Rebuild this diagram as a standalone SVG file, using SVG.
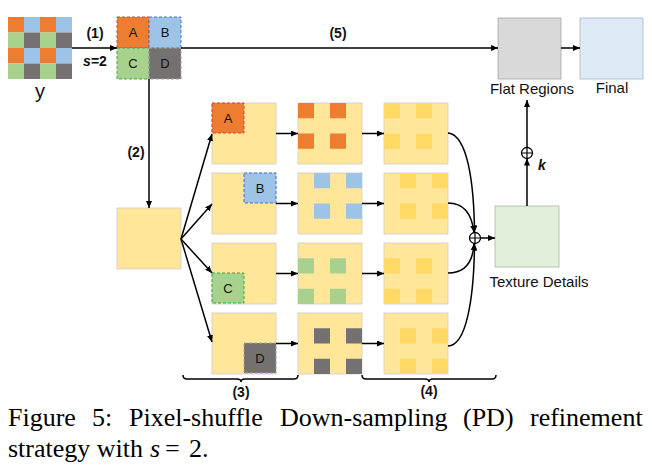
<svg xmlns="http://www.w3.org/2000/svg" width="652" height="471" viewBox="0 0 652 471">
<style>
.t{font-family:"Liberation Sans",Arial,sans-serif;fill:#111}
.b{font-weight:bold;font-size:14px}
.lab{font-size:15px}
.sq{font-size:13px;text-anchor:middle}
.box{fill:#ffe699;stroke:#cccccc;stroke-width:0.8}
.or{fill:#ed7d31}.bl{fill:#9dc3e6}.gr{fill:#a9d18e}.gy{fill:#767171}.dy{fill:#ffd966}
.ln{stroke:#000;stroke-width:1.5;fill:none}
.cap{font-family:"Liberation Serif","Times New Roman",serif;font-size:26px;fill:#000}
</style>
<defs>
<marker id="ah" markerWidth="7" markerHeight="6" refX="7" refY="3" orient="auto" markerUnits="userSpaceOnUse"><path d="M0,0 L7,3 L0,6 z" fill="#000"/></marker>
</defs>

<g id="y-input">
<rect x="8" y="17" width="16" height="15.5" class="or"/><rect x="24" y="17" width="16" height="15.5" class="bl"/><rect x="40" y="17" width="16" height="15.5" class="or"/><rect x="56" y="17" width="16" height="15.5" class="bl"/>
<rect x="8" y="32.5" width="16" height="15.5" class="gr"/><rect x="24" y="32.5" width="16" height="15.5" class="gy"/><rect x="40" y="32.5" width="16" height="15.5" class="gr"/><rect x="56" y="32.5" width="16" height="15.5" class="gy"/>
<rect x="8" y="48" width="16" height="15.5" class="or"/><rect x="24" y="48" width="16" height="15.5" class="bl"/><rect x="40" y="48" width="16" height="15.5" class="or"/><rect x="56" y="48" width="16" height="15.5" class="bl"/>
<rect x="8" y="63.5" width="16" height="15.5" class="gr"/><rect x="24" y="63.5" width="16" height="15.5" class="gy"/><rect x="40" y="63.5" width="16" height="15.5" class="gr"/><rect x="56" y="63.5" width="16" height="15.5" class="gy"/>
<text x="40" y="98" class="t" font-size="20" text-anchor="middle">y</text>
</g>

<g id="abcd">
<rect x="117" y="17" width="32" height="31" class="or" stroke="#e03c31" stroke-width="1" stroke-dasharray="3,2"/>
<rect x="149" y="17" width="32" height="31" class="bl" stroke="#4472c4" stroke-width="1" stroke-dasharray="3,2"/>
<rect x="117" y="48" width="32" height="31" class="gr" stroke="#3aa845" stroke-width="1" stroke-dasharray="3,2"/>
<rect x="149" y="48" width="32" height="31" class="gy" stroke="#a6a6a6" stroke-width="1" stroke-dasharray="3,2"/>
<text x="133" y="37" class="t sq">A</text><text x="165" y="37" class="t sq">B</text>
<text x="133" y="68" class="t sq">C</text><text x="165" y="68" class="t sq">D</text>
</g>

<g id="merged">
<rect x="117" y="208" width="64" height="61" class="box"/>
</g>

<g id="split-A">
<rect x="212" y="103" width="64" height="61" class="box"/>
<rect x="212" y="103" width="32" height="30" class="or" stroke="#e03c31" stroke-width="1" stroke-dasharray="3,2"/>
<text x="228" y="123" class="t sq">A</text>
</g>
<g id="split-B">
<rect x="212" y="173" width="64" height="61" class="box"/>
<rect x="244" y="173" width="32" height="30" class="bl" stroke="#4472c4" stroke-width="1" stroke-dasharray="3,2"/>
<text x="260" y="193" class="t sq">B</text>
</g>
<g id="split-C">
<rect x="212" y="243" width="64" height="61" class="box"/>
<rect x="212" y="273" width="32" height="30" class="gr" stroke="#3aa845" stroke-width="1" stroke-dasharray="3,2"/>
<text x="228" y="293" class="t sq">C</text>
</g>
<g id="split-D">
<rect x="212" y="313" width="64" height="61" class="box"/>
<rect x="244" y="343" width="32" height="30" class="gy" stroke="#a6a6a6" stroke-width="1" stroke-dasharray="3,2"/>
<text x="260" y="363" class="t sq">D</text>
</g>

<g id="up-A">
<rect x="298" y="103" width="64" height="61" class="box"/>
<rect x="298" y="103" width="16" height="15.25" class="or"/><rect x="330" y="103" width="16" height="15.25" class="or"/>
<rect x="298" y="133.5" width="16" height="15.25" class="or"/><rect x="330" y="133.5" width="16" height="15.25" class="or"/>
</g>
<g id="up-B">
<rect x="298" y="173" width="64" height="61" class="box"/>
<rect x="314" y="173" width="16" height="15.25" class="bl"/><rect x="346" y="173" width="16" height="15.25" class="bl"/>
<rect x="314" y="203.5" width="16" height="15.25" class="bl"/><rect x="346" y="203.5" width="16" height="15.25" class="bl"/>
</g>
<g id="up-C">
<rect x="298" y="243" width="64" height="61" class="box"/>
<rect x="298" y="258.25" width="16" height="15.25" class="gr"/><rect x="330" y="258.25" width="16" height="15.25" class="gr"/>
<rect x="298" y="288.75" width="16" height="15.25" class="gr"/><rect x="330" y="288.75" width="16" height="15.25" class="gr"/>
</g>
<g id="up-D">
<rect x="298" y="313" width="64" height="61" class="box"/>
<rect x="314" y="328.25" width="16" height="15.25" class="gy"/><rect x="346" y="328.25" width="16" height="15.25" class="gy"/>
<rect x="314" y="358.75" width="16" height="15.25" class="gy"/><rect x="346" y="358.75" width="16" height="15.25" class="gy"/>
</g>

<g id="ref-A">
<rect x="384" y="103" width="64" height="61" class="box"/>
<rect x="384" y="103" width="16" height="15.25" class="dy"/><rect x="416" y="103" width="16" height="15.25" class="dy"/>
<rect x="384" y="133.5" width="16" height="15.25" class="dy"/><rect x="416" y="133.5" width="16" height="15.25" class="dy"/>
</g>
<g id="ref-B">
<rect x="384" y="173" width="64" height="61" class="box"/>
<rect x="400" y="173" width="16" height="15.25" class="dy"/><rect x="432" y="173" width="16" height="15.25" class="dy"/>
<rect x="400" y="203.5" width="16" height="15.25" class="dy"/><rect x="432" y="203.5" width="16" height="15.25" class="dy"/>
</g>
<g id="ref-C">
<rect x="384" y="243" width="64" height="61" class="box"/>
<rect x="384" y="258.25" width="16" height="15.25" class="dy"/><rect x="416" y="258.25" width="16" height="15.25" class="dy"/>
<rect x="384" y="288.75" width="16" height="15.25" class="dy"/><rect x="416" y="288.75" width="16" height="15.25" class="dy"/>
</g>
<g id="ref-D">
<rect x="384" y="313" width="64" height="61" class="box"/>
<rect x="400" y="328.25" width="16" height="15.25" class="dy"/><rect x="432" y="328.25" width="16" height="15.25" class="dy"/>
<rect x="400" y="358.75" width="16" height="15.25" class="dy"/><rect x="432" y="358.75" width="16" height="15.25" class="dy"/>
</g>

<g id="texture">
<rect x="495" y="206" width="64" height="61" fill="#e2efda" stroke="#a9b8a0" stroke-width="0.8"/>
<text x="539" y="287" class="t lab" text-anchor="middle">Texture Details</text>
</g>
<g id="flat">
<rect x="498" y="18" width="63" height="61" fill="#d9d9d9" stroke="#a6a6a6" stroke-width="0.8"/>
<text x="532" y="94" class="t lab" text-anchor="middle">Flat Regions</text>
</g>
<g id="final">
<rect x="580" y="18" width="63" height="61" fill="#deebf7" stroke="#a6b4c4" stroke-width="0.8"/>
<text x="612" y="93" class="t lab" text-anchor="middle">Final</text>
</g>

<g id="connectors">
<line x1="72" y1="48" x2="117" y2="48" class="ln" marker-end="url(#ah)"/>
<line x1="181" y1="48" x2="498" y2="48" class="ln" marker-end="url(#ah)"/>
<line x1="561" y1="48" x2="580" y2="48" class="ln" marker-end="url(#ah)"/>
<line x1="149" y1="79" x2="149" y2="208" class="ln" marker-end="url(#ah)"/>
<line x1="181" y1="239" x2="212" y2="134" class="ln" marker-end="url(#ah)"/>
<line x1="181" y1="239" x2="212" y2="204" class="ln" marker-end="url(#ah)"/>
<line x1="181" y1="239" x2="212" y2="273" class="ln" marker-end="url(#ah)"/>
<line x1="181" y1="239" x2="212" y2="342" class="ln" marker-end="url(#ah)"/>
<line x1="276" y1="133.5" x2="298" y2="133.5" class="ln" marker-end="url(#ah)"/>
<line x1="276" y1="203.5" x2="298" y2="203.5" class="ln" marker-end="url(#ah)"/>
<line x1="276" y1="273.5" x2="298" y2="273.5" class="ln" marker-end="url(#ah)"/>
<line x1="276" y1="343.5" x2="298" y2="343.5" class="ln" marker-end="url(#ah)"/>
<line x1="362" y1="133.5" x2="384" y2="133.5" class="ln" marker-end="url(#ah)"/>
<line x1="362" y1="203.5" x2="384" y2="203.5" class="ln" marker-end="url(#ah)"/>
<line x1="362" y1="273.5" x2="384" y2="273.5" class="ln" marker-end="url(#ah)"/>
<line x1="362" y1="343.5" x2="384" y2="343.5" class="ln" marker-end="url(#ah)"/>
<path d="M448,133 C468,135 474,185 474.5,232.5" class="ln" marker-end="url(#ah)"/>
<path d="M448,203 C465,203 472,215 474,232.5" class="ln" marker-end="url(#ah)"/>
<path d="M448,273 C465,273 473,262 474,243.5" class="ln" marker-end="url(#ah)"/>
<path d="M448,346 C466,346 474,300 474.5,243.5" class="ln" marker-end="url(#ah)"/>
<circle cx="475" cy="238" r="5.5" fill="#fff" stroke="#000" stroke-width="1.3"/>
<path d="M469.5,238 H480.5 M475,232.5 V243.5" stroke="#000" stroke-width="1.2"/>
<line x1="480.5" y1="238" x2="495" y2="238" class="ln" marker-end="url(#ah)"/>
<line x1="527" y1="206" x2="527" y2="158.5" class="ln" marker-end="url(#ah)"/>
<circle cx="527" cy="153" r="5.5" fill="#fff" stroke="#000" stroke-width="1.3"/>
<path d="M521.5,153 H532.5 M527,147.5 V158.5" stroke="#000" stroke-width="1.2"/>
<line x1="527" y1="147.5" x2="527" y2="100" class="ln" marker-end="url(#ah)"/>
<path d="M183,375 Q183,379 187,379 L237,379 Q241,379 241,382 Q241,379 245,379 L294,379 Q298,379 298,375" class="ln" stroke-width="1.3"/>
<path d="M362,375 Q362,379 366,379 L425,379 Q429,379 429,382 Q429,379 433,379 L492,379 Q496,379 496,375" class="ln" stroke-width="1.3"/>
</g>

<g id="step-labels">
<text x="95" y="38" class="t b" text-anchor="middle">(1)</text>
<text x="95" y="66" class="t b" text-anchor="middle"><tspan font-style="italic">s</tspan>=2</text>
<text x="136" y="157" class="t b" text-anchor="middle">(2)</text>
<text x="338" y="38" class="t b" text-anchor="middle">(5)</text>
<text x="241" y="397" class="t b" text-anchor="middle">(3)</text>
<text x="429" y="396" class="t b" text-anchor="middle">(4)</text>
<text x="538" y="170" class="t b" font-style="italic">k</text>
</g>

<g id="caption">
<text y="426" class="cap"><tspan x="8">Figure</tspan><tspan x="92">5:</tspan><tspan x="129">Pixel-shuffle</tspan><tspan x="280">Down-sampling</tspan><tspan x="463">(PD)</tspan><tspan x="530">refinement</tspan></text>
<text y="457" class="cap"><tspan x="8">strategy with</tspan><tspan x="150" font-style="italic">s</tspan><tspan x="165">=</tspan><tspan x="189">2.</tspan></text>
</g>
</svg>
